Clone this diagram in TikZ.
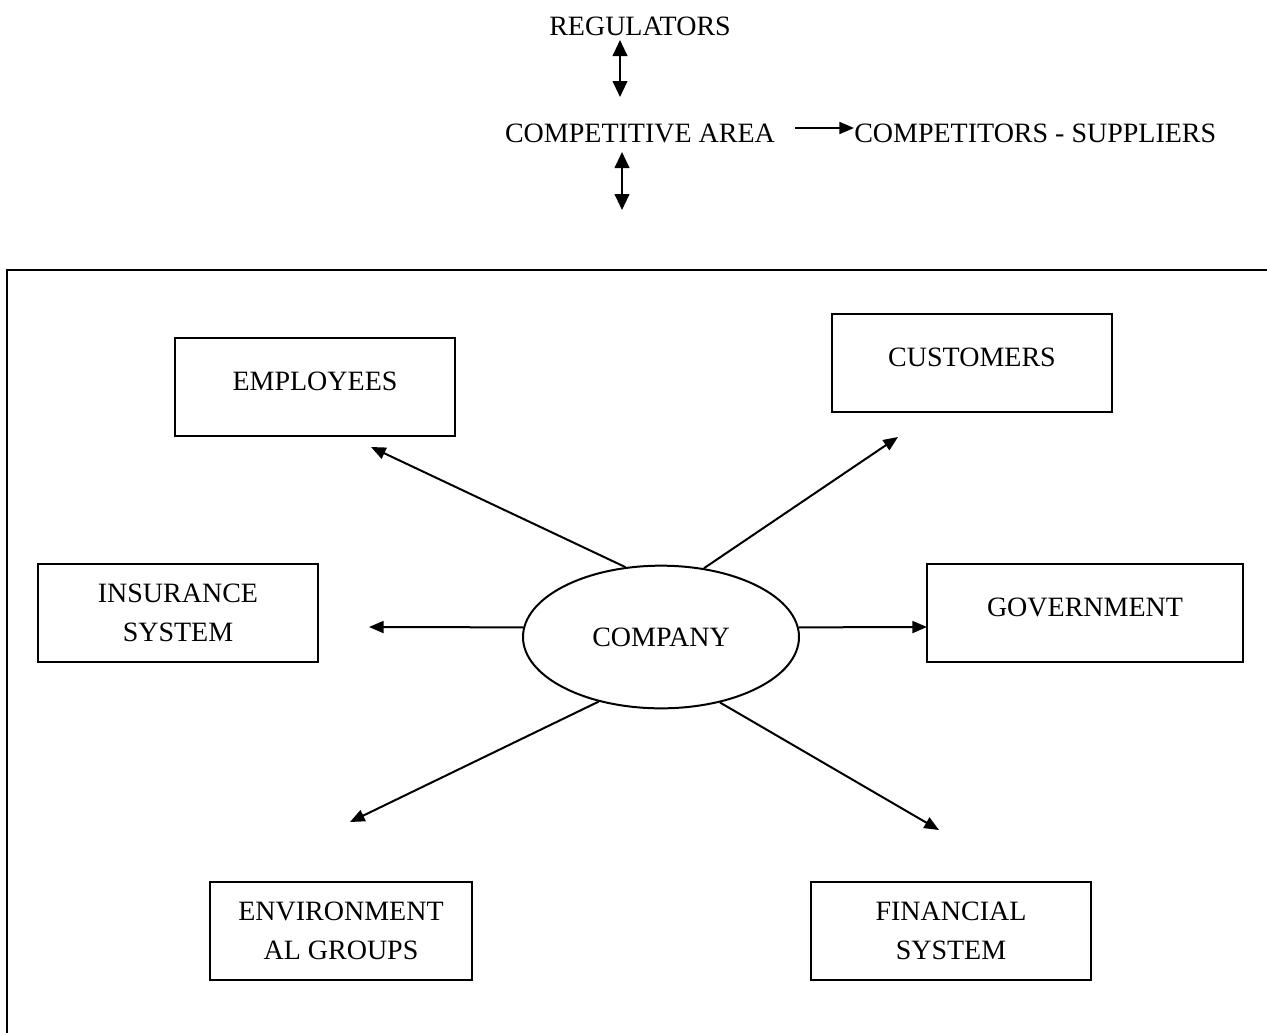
\documentclass[tikz,border=0pt]{standalone}
\usepackage{fontspec}
\setmainfont{Liberation Serif}
\usetikzlibrary{arrows.meta,shapes.geometric}

\begin{document}
\begin{tikzpicture}[x=0.75pt,y=-0.75pt,
    font=\fontsize{21}{29}\selectfont,
    box/.style={draw,line width=1.5pt,minimum width=210pt,minimum height=73pt,align=center,inner sep=0pt},
    onebox/.style={box,text depth=9pt},
    arr/.style={line width=1.5pt,-{Triangle[length=11pt,width=9pt]}},
    dbl/.style={line width=1.5pt,{Triangle[length=12pt,width=11pt]}-{Triangle[length=12pt,width=11pt]}}]
  \useasboundingbox (0,0) rectangle (1267,1032);
  % open frame round the company
  \draw[line width=2pt] (1300,270) -- (7,270) -- (7,1100);

  % top part
  \node (regulators) at (640,26) {REGULATORS};
  \node (area) at (640,133) {COMPETITIVE AREA};
  \node[anchor=west,inner sep=0pt] (suppliers) at (854,133) {COMPETITORS - SUPPLIERS};
  \coordinate (regUp) at (620,40);
  \coordinate (regDown) at (620,97);
  \coordinate (areaUp) at (622,152);
  \coordinate (areaDown) at (622,210);
  \coordinate (areaOut) at (795,128);
  \draw[dbl] (regUp) -- (regDown);
  \draw[dbl] (areaUp) -- (areaDown);
  \draw[arr] (areaOut) -- (suppliers.west |- areaOut);

  % company and its stakeholders
  \node[ellipse,draw,line width=1.5pt,minimum width=207pt,minimum height=107pt,inner sep=0pt] (company) at (661,637) {COMPANY};
  \node[onebox] (employees) at (315,387) {EMPLOYEES};
  \node[onebox] (customers) at (972,363) {CUSTOMERS};
  \node[box] (insurance) at (178,613) {INSURANCE\\SYSTEM};
  \node[onebox,minimum width=237pt] (government) at (1085,613) {GOVERNMENT};
  \node[box,minimum width=197pt] (environment) at (341,931) {ENVIRONMENT\\AL GROUPS};
  \node[box] (financial) at (951,931) {FINANCIAL\\SYSTEM};

  \coordinate (empTip) at (371,447);
  \coordinate (custTip) at (898,437);
  \coordinate (insTip) at (369,627);
  \coordinate (govTip) at (927,627);
  \coordinate (envTip) at (350,822);
  \coordinate (finTip) at (939,830);
  \draw[arr] (company.117) -- (empTip);
  \draw[arr] (company.58) -- (custTip);
  \draw[arr] (company.176) -- (insTip);
  \draw[arr] (company.4) -- (govTip);
  \draw[arr] (company.-134) -- (envTip);
  \draw[arr] (company.-48) -- (finTip);
\end{tikzpicture}
\end{document}
